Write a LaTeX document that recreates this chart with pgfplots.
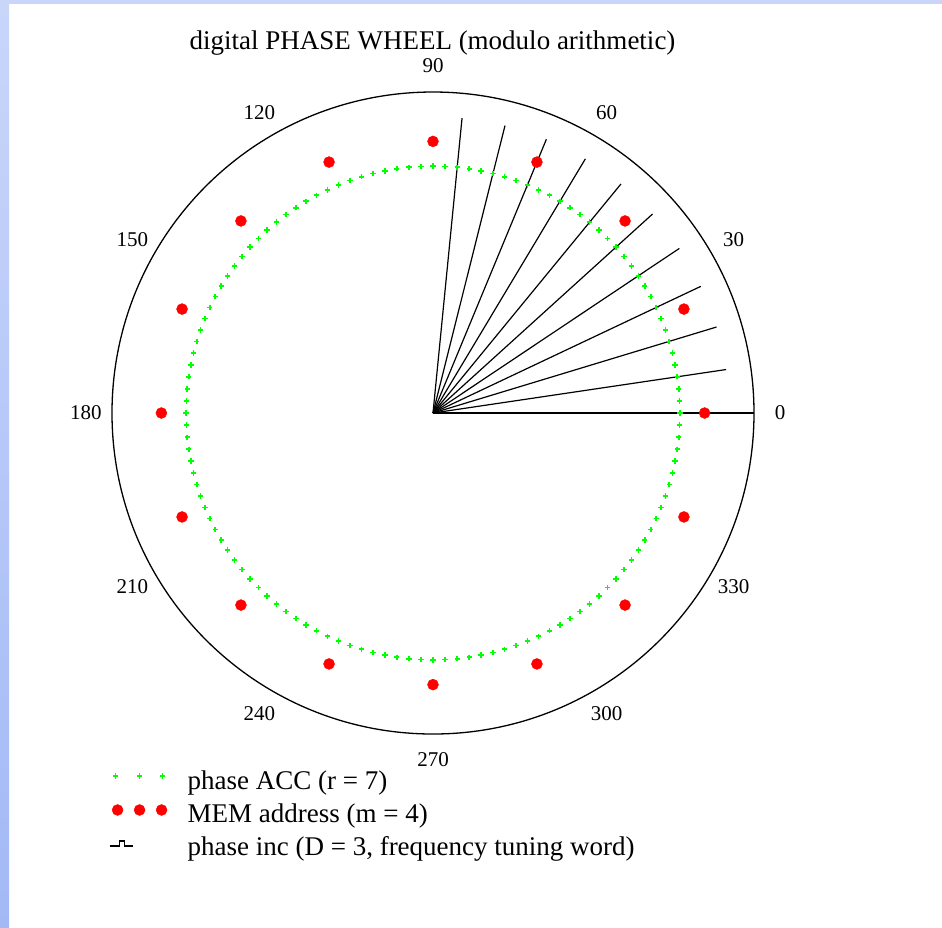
\documentclass[border=0pt]{standalone}
\usepackage{pgfplots}
\usepackage{pgfplotstable}
\pgfplotsset{compat=1.18}
\usepgfplotslibrary{polar}
\usepackage{fontspec}
\setmainfont{Liberation Serif}
\definecolor{accgreen}{RGB}{0,255,0}
\definecolor{memred}{RGB}{255,0,0}
\definecolor{bandtop}{RGB}{201,214,250}
\definecolor{bandbot}{RGB}{163,185,246}

\pgfplotstableread{
ang r
0 1
2.8125 1
5.625 1
8.4375 1
11.25 1
14.0625 1
16.875 1
19.6875 1
22.5 1
25.3125 1
28.125 1
30.9375 1
33.75 1
36.5625 1
39.375 1
42.1875 1
45 1
47.8125 1
50.625 1
53.4375 1
56.25 1
59.0625 1
61.875 1
64.6875 1
67.5 1
70.3125 1
73.125 1
75.9375 1
78.75 1
81.5625 1
84.375 1
87.1875 1
90 1
92.8125 1
95.625 1
98.4375 1
101.25 1
104.0625 1
106.875 1
109.6875 1
112.5 1
115.3125 1
118.125 1
120.9375 1
123.75 1
126.5625 1
129.375 1
132.1875 1
135 1
137.8125 1
140.625 1
143.4375 1
146.25 1
149.0625 1
151.875 1
154.6875 1
157.5 1
160.3125 1
163.125 1
165.9375 1
168.75 1
171.5625 1
174.375 1
177.1875 1
180 1
182.8125 1
185.625 1
188.4375 1
191.25 1
194.0625 1
196.875 1
199.6875 1
202.5 1
205.3125 1
208.125 1
210.9375 1
213.75 1
216.5625 1
219.375 1
222.1875 1
225 1
227.8125 1
230.625 1
233.4375 1
236.25 1
239.0625 1
241.875 1
244.6875 1
247.5 1
250.3125 1
253.125 1
255.9375 1
258.75 1
261.5625 1
264.375 1
267.1875 1
270 1
272.8125 1
275.625 1
278.4375 1
281.25 1
284.0625 1
286.875 1
289.6875 1
292.5 1
295.3125 1
298.125 1
300.9375 1
303.75 1
306.5625 1
309.375 1
312.1875 1
315 1
317.8125 1
320.625 1
323.4375 1
326.25 1
329.0625 1
331.875 1
334.6875 1
337.5 1
340.3125 1
343.125 1
345.9375 1
348.75 1
351.5625 1
354.375 1
357.1875 1
}\accdata

\pgfplotstableread{
ang r
0 1.1
22.5 1.1
45 1.1
67.5 1.1
90 1.1
112.5 1.1
135 1.1
157.5 1.1
180 1.1
202.5 1.1
225 1.1
247.5 1.1
270 1.1
292.5 1.1
315 1.1
337.5 1.1
}\memdata

\begin{document}
\begin{tikzpicture}
\useasboundingbox (0pt,0pt) rectangle (942pt,-927pt);
\fill[white] (0pt,0pt) rectangle (942pt,-927pt);
\shade[top color=bandtop, bottom color=bandbot] (0pt,0pt) rectangle (9pt,-927pt);
\fill[bandtop] (0pt,0pt) rectangle (942pt,-4pt);
\begin{polaraxis}[
  at={(433pt,-413pt)}, anchor=center,
  scale only axis, width=642pt, height=642pt,
  ymin=0, ymax=1.3,
  xtick={0,30,...,330},
  ytick=\empty,
  xmajorgrids=false, ymajorgrids=false,
  major tick length=0pt,
  clip=false,
  axis line style={line width=1.3pt, black},
  /pgf/number format/assume math mode=true,
  xticklabel={\pgfmathprintnumber[fixed,precision=0]{\tick}},
  xticklabel style={anchor=center, shift={(\tick:26pt)}, inner sep=0pt,
    font=\fontsize{21}{24}\selectfont},
  title={digital PHASE WHEEL (modulo arithmetic)},
  title style={at={(axis description cs:0.4992,1.0436)}, anchor=base,
    inner sep=0pt, font=\fontsize{27}{30}\selectfont},
  legend style={at={(axis description cs:-0.0047,-0.0576)}, anchor=north west,
    draw=none, fill=none, inner sep=0pt, outer sep=0pt, row sep=7pt,
    font=\fontsize{27}{30}\selectfont,
    nodes={inner sep=0pt, text height=19pt, text depth=7pt}},
  legend cell align=left,
]
\addplot[only marks, mark=+, mark size=2.7pt, accgreen, line width=1.6pt,
  legend image code/.code={
    \path[draw=none, fill=none] (0pt,-6pt) rectangle (78pt,6pt);
    \draw[accgreen, line width=1.6pt] plot[only marks, mark=+, mark size=2.7pt]
      coordinates {(6pt,8pt) (30pt,8pt) (53pt,8pt)};
  }] table[x=ang, y=r] {\accdata};
\addlegendentry{phase ACC (r = 7)}
\addplot[only marks, mark=*, mark size=5.5pt, memred,
  mark options={draw=none, fill=memred},
  legend image code/.code={
    \path[draw=none, fill=none] (0pt,-6pt) rectangle (78pt,6pt);
    \fill[memred] (8pt,7pt) circle[radius=5.5pt] (30pt,7pt) circle[radius=5.5pt]
      (52pt,7pt) circle[radius=5.5pt];
  }] table[x=ang, y=r] {\memdata};
\addlegendentry{MEM address (m = 4)}
\addplot[black, line width=1.2pt,
  legend image code/.code={
    \path[draw=none, fill=none] (0pt,-6pt) rectangle (78pt,6pt);
    \draw[black, line width=1.2pt] (0pt,4pt) -- (10pt,4pt) -- (10pt,9pt) -- (15pt,9pt) -- (15pt,4pt) -- (23pt,4pt);
  }] coordinates {(0,0) (0,1.2)};
\addlegendentry{phase inc (D = 3, frequency tuning word)}
\addplot[black, line width=1.2pt, forget plot] coordinates {(8.4375,0) (8.4375,1.2)};
\addplot[black, line width=1.2pt, forget plot] coordinates {(16.875,0) (16.875,1.2)};
\addplot[black, line width=1.2pt, forget plot] coordinates {(25.3125,0) (25.3125,1.2)};
\addplot[black, line width=1.2pt, forget plot] coordinates {(33.75,0) (33.75,1.2)};
\addplot[black, line width=1.2pt, forget plot] coordinates {(42.1875,0) (42.1875,1.2)};
\addplot[black, line width=1.2pt, forget plot] coordinates {(50.625,0) (50.625,1.2)};
\addplot[black, line width=1.2pt, forget plot] coordinates {(59.0625,0) (59.0625,1.2)};
\addplot[black, line width=1.2pt, forget plot] coordinates {(67.5,0) (67.5,1.2)};
\addplot[black, line width=1.2pt, forget plot] coordinates {(75.9375,0) (75.9375,1.2)};
\addplot[black, line width=1.2pt, forget plot] coordinates {(84.375,0) (84.375,1.2)};
\end{polaraxis}
\end{tikzpicture}
\end{document}
